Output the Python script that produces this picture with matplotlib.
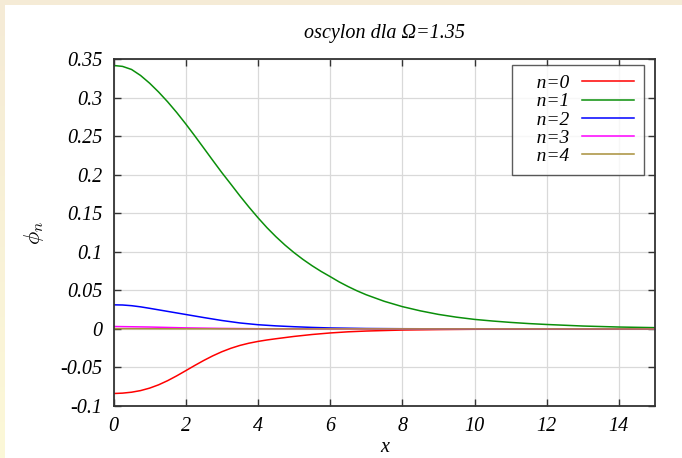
import numpy as np
import matplotlib
matplotlib.use("Agg")
import matplotlib.pyplot as plt

plt.rcParams['mathtext.fontset'] = 'cm'
plt.rcParams['font.family'] = 'Liberation Serif'
plt.rcParams['font.style'] = 'italic'

# profiles of the oscillon harmonics phi_n(x)
x_n0 = [0, 0.25, 0.5, 0.75, 1, 1.25, 1.5, 1.75, 2, 2.25, 2.5, 2.75, 3, 3.25, 3.5, 3.75,
        4, 4.25, 4.5, 5, 5.5, 6, 6.5, 7, 8, 9, 10, 11, 12, 15]
phi_n0 = [-0.0838, -0.0833, -0.0821, -0.0800, -0.0768, -0.0725, -0.0671, -0.0609,
          -0.0542, -0.0474, -0.0409, -0.0349, -0.0296, -0.0251, -0.0214, -0.0185,
          -0.0162, -0.0143, -0.0127, -0.0097, -0.0072, -0.0052, -0.0037, -0.0027,
          -0.0014, -0.0008, -0.0004, -0.0002, -0.0001, 0.0]

x_n1 = [0, 0.25, 0.5, 0.75, 1, 1.25, 1.5, 1.75, 2, 2.25, 2.5, 2.75, 3, 3.25, 3.5, 3.75,
        4, 4.25, 4.5, 4.75, 5, 5.25, 5.5, 5.75, 6, 6.25, 6.5, 6.75, 7, 7.5, 8, 8.5, 9,
        9.5, 10, 10.5, 11, 11.5, 12, 13, 14, 15]
phi_n1 = [0.342, 0.3408, 0.3368, 0.329, 0.319, 0.3075, 0.2948, 0.281, 0.2662, 0.2507,
          0.2348, 0.2188, 0.2030, 0.1880, 0.1728, 0.1583, 0.1445, 0.1315, 0.1197,
          0.1089, 0.0991, 0.0902, 0.0821, 0.0747, 0.0680, 0.0611, 0.0550, 0.0494,
          0.0444, 0.0359, 0.0290, 0.0235, 0.0189, 0.0153, 0.0124, 0.0103, 0.0085,
          0.0070, 0.0058, 0.0038, 0.0025, 0.0017]

x_n2 = [0, 0.25, 0.5, 0.75, 1, 1.5, 2, 2.5, 3, 3.5, 4, 4.5, 5, 5.5, 6, 7, 8, 10, 15]
phi_n2 = [0.0313, 0.0311, 0.0302, 0.0287, 0.0268, 0.0228, 0.0188, 0.0148, 0.0110,
          0.0078, 0.0055, 0.0040, 0.0029, 0.0020, 0.0013, 0.0006, 0.0003, 0.0001, 0.0]

x_n3 = [0, 1, 2, 3, 4, 6, 15]
phi_n3 = [0.0032, 0.0025, 0.0014, 0.0007, 0.0003, 0.0001, 0.0]

x_n4 = [0, 2, 4, 15]
phi_n4 = [0.0004, 0.0002, 0.0001, 0.0]

series = [
    ("n=0", x_n0, phi_n0, "#ff0000"),
    ("n=1", x_n1, phi_n1, "#0a8f0a"),
    ("n=2", x_n2, phi_n2, "#0000ff"),
    ("n=3", x_n3, phi_n3, "#ff00ff"),
    ("n=4", x_n4, phi_n4, "#a8903a"),
]

xticks = [0, 2, 4, 6, 8, 10, 12, 14]
yticks = [0.35, 0.3, 0.25, 0.2, 0.15, 0.1, 0.05, 0, -0.05, -0.1]
ytick_labels = ["0.35", "0.3", "0.25", "0.2", "0.15", "0.1", "0.05", "0", "-0.05", "-0.1"]

W, H = 682, 458
fig = plt.figure(figsize=(W / 100, H / 100), dpi=100)

# page background with a thin tinted margin on the top and left
bg = np.ones((H, W, 3))
bg[:5, :, :] = np.array([245, 235, 214]) / 255
t = np.linspace(0, 1, H)[:, None]
top_c = np.array([245, 235, 214]) / 255
bot_c = np.array([252, 248, 216]) / 255
bg[:, :5, :] = (top_c * (1 - t) + bot_c * t)[:, None, :].repeat(5, axis=1)
bax = fig.add_axes([0, 0, 1, 1], zorder=-10)
bax.imshow(bg, aspect='auto', interpolation='nearest')
bax.axis('off')

fs = 14.5
ax = fig.add_axes([113.5 / W, 1 - 406 / H, (655 - 113.5) / W, (406 - 59.3) / H])
for label, xs, ys, c in series:
    ax.plot(xs, ys, color=c, lw=1.1, label="   " + label)

ax.set_xlim(0, 15)
ax.set_ylim(-0.1, 0.35)
ax.set_xticks(xticks)
ax.set_xticklabels([str(v) for v in xticks], fontsize=fs)
ax.set_yticks(yticks)
ax.set_yticklabels(ytick_labels, fontsize=fs)
ax.tick_params(direction='in', length=5, width=1, color='#333333',
               top=True, right=True, pad=8)
ax.grid(True, color='#d9d9d9', lw=0.9)
for s in ax.spines.values():
    s.set_color('#333333')
    s.set_linewidth(1.3)

ax.set_title("oscylon dla \u03a9=1.35", fontsize=fs, pad=15)
ax.set_xlabel("x", fontsize=fs, labelpad=1)
ax.set_ylabel(r"$\phi_n$", fontsize=16, labelpad=10)

leg = ax.legend(loc='upper right', bbox_to_anchor=(0.98, 0.984), borderaxespad=0,
                fancybox=False, markerfirst=False, fontsize=14, handlelength=2.7,
                labelspacing=0.03, borderpad=0.5, handletextpad=0.67)
leg.get_frame().set_edgecolor('#333333')
leg.get_frame().set_linewidth(1.0)

fig.savefig("out.png", dpi=100)
